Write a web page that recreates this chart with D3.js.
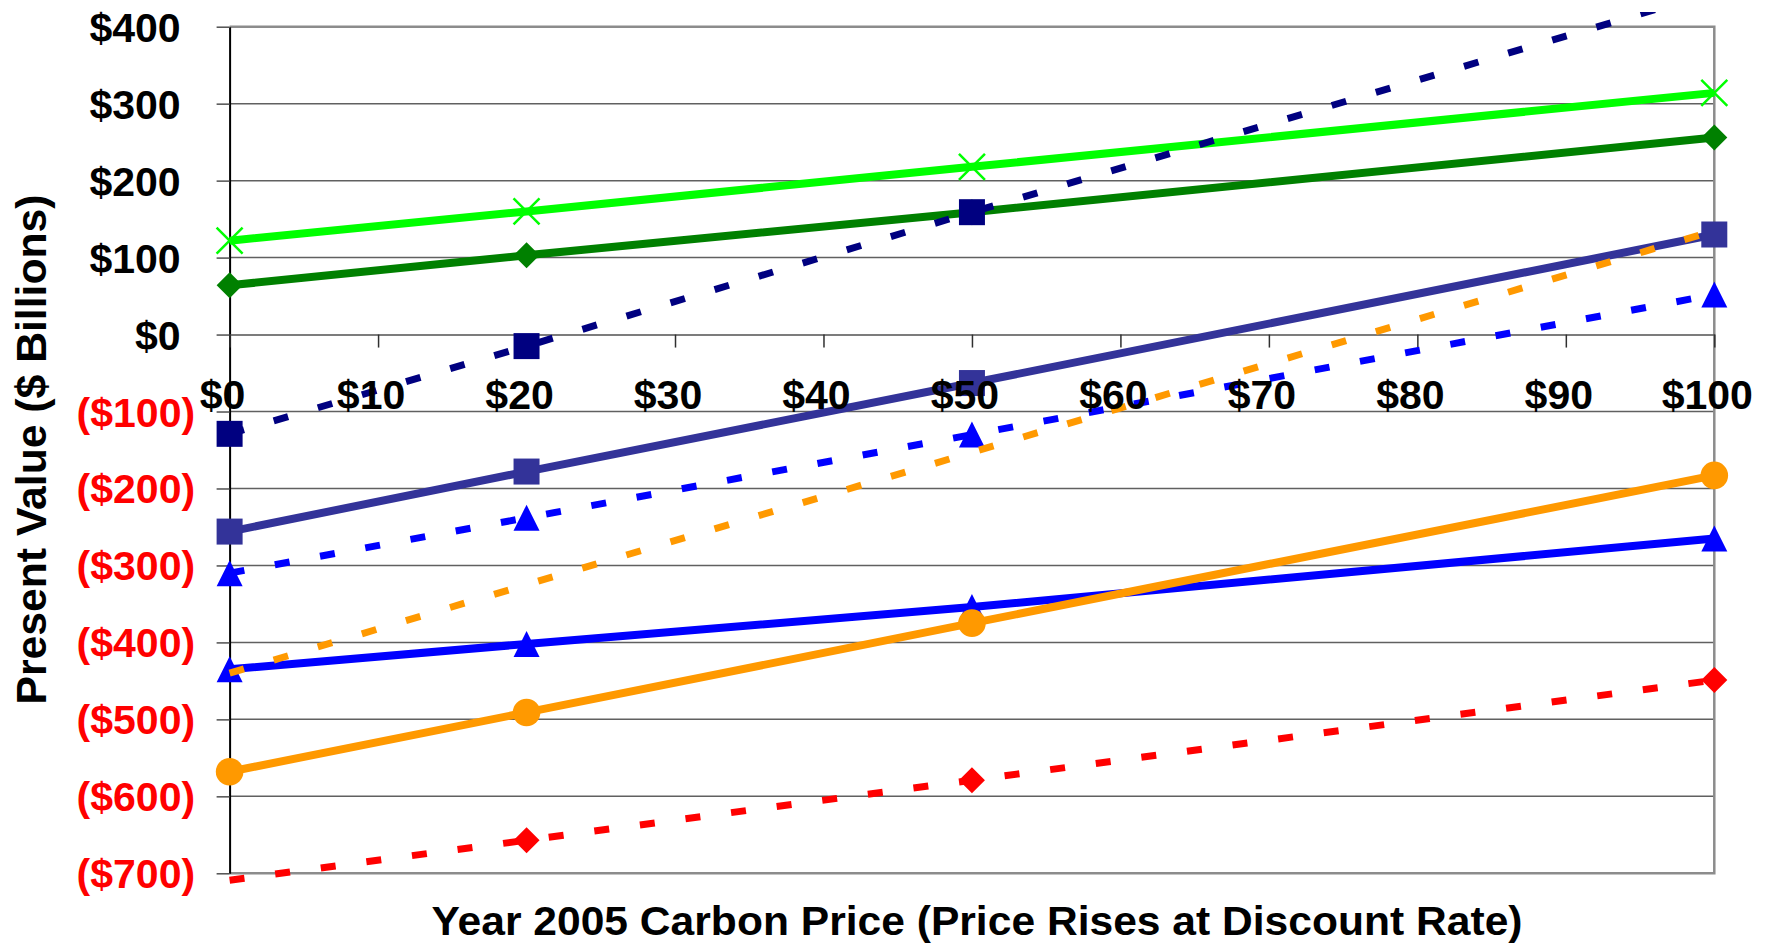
<!DOCTYPE html>
<html>
<head>
<meta charset="utf-8">
<script src="https://cdn.jsdelivr.net/npm/d3@7"></script>
<style>
  html, body { margin: 0; padding: 0; background: #fff; }
  svg { display: block; }
  text { font-family: "Liberation Sans", Arial, sans-serif; font-weight: bold; }
</style>
</head>
<body>
<svg id="chart" width="1769" height="943"></svg>
<script>
// Year 2005 carbon price points ($/t) at which present value was evaluated
const prices = [0, 20, 50, 100];
const xTickValues = [0, 10, 20, 30, 40, 50, 60, 70, 80, 90, 100];
const yTickValues = [-700, -600, -500, -400, -300, -200, -100, 0, 100, 200, 300, 400];

// Present value ($ billions) for each scenario
const limeSolid    = [122, 160, 218, 314];
const greenSolid   = [64, 103, 159, 256];
const navyDashed   = [-129, -15, 159, 445];
const slateSolid   = [-256, -178, -63, 130];
const blueDashed   = [-310, -238, -130, 52];
const blueSolid    = [-435, -402, -354, -265];
const orangeDashed = [-440, -325, -153, 135];
const orangeSolid  = [-568, -491, -375, -183];
const redDashed    = [-709, -657, -579, -449];

const series = [
  { values: limeSolid,    color: "#00FF00", dashed: false, marker: "cross" },
  { values: greenSolid,   color: "#008000", dashed: false, marker: "diamond" },
  { values: navyDashed,   color: "#000080", dashed: true,  marker: "square" },
  { values: slateSolid,   color: "#333399", dashed: false, marker: "square" },
  { values: blueDashed,   color: "#0000FF", dashed: true,  marker: "triangle" },
  { values: blueSolid,    color: "#0000FF", dashed: false, marker: "triangle" },
  { values: orangeDashed, color: "#FF9900", dashed: true,  marker: null },
  { values: orangeSolid,  color: "#FF9900", dashed: false, marker: "circle" },
  { values: redDashed,    color: "#FF0000", dashed: true,  marker: "diamond" }
];

const svg = d3.select("#chart");
const W = 1769, H = 943;
const plotLeft = 229.6, plotRight = 1714.3, plotTop = 26.7, plotBottom = 873.3;

const x = d3.scaleLinear().domain([0, 100]).range([plotLeft, plotRight]);
const y = d3.scaleLinear().domain([-700, 400]).range([plotBottom, plotTop]);

svg.append("rect").attr("width", W).attr("height", H).attr("fill", "#fff");

// horizontal gridlines
svg.append("g")
  .selectAll("line")
  .data(yTickValues.filter(v => v > -700 && v < 400 && v !== 0))
  .join("line")
  .attr("x1", plotLeft).attr("x2", plotRight)
  .attr("y1", d => y(d)).attr("y2", d => y(d))
  .attr("stroke", "#606060").attr("stroke-width", 1.5);

// plot area frame (top, right, bottom)
svg.append("path")
  .attr("d", `M${plotLeft},${plotTop}H${plotRight}V${plotBottom}H${plotLeft}`)
  .attr("fill", "none").attr("stroke", "#8c8c8c").attr("stroke-width", 2.5);

// y axis
const yAxis = d3.axisLeft(y)
  .tickValues(yTickValues)
  .tickSize(13)
  .tickSizeOuter(0)
  .tickFormat(d => d < 0 ? `($${Math.abs(d)})` : `$${d}`);

const gy = svg.append("g").attr("transform", `translate(${plotLeft},0)`).call(yAxis);
gy.select(".domain").attr("stroke", "#000").attr("stroke-width", 2);
gy.selectAll(".tick line").attr("stroke", "#505050").attr("stroke-width", 1.5);
gy.selectAll(".tick text")
  .attr("x", d => d < 0 ? -34.5 : -49)
  .attr("dy", 14.5)
  .attr("fill", d => d < 0 ? "#FF0000" : "#000")
  .attr("font-size", 41)
  .attr("font-family", "Liberation Sans, Arial, sans-serif")
  .attr("font-weight", "bold");

// x axis, crossing at $0
const xAxis = d3.axisBottom(x)
  .tickValues(xTickValues)
  .tickSize(13)
  .tickSizeOuter(0)
  .tickFormat(d => `$${d}`);

const gx = svg.append("g").attr("transform", `translate(0,${y(0)})`).call(xAxis);
gx.select(".domain").attr("stroke", "#505050").attr("stroke-width", 1.5);
gx.selectAll(".tick line").attr("stroke", "#303030").attr("stroke-width", 1.5);
gx.selectAll(".tick text").remove();

// series lines
svg.append("defs").append("clipPath").attr("id", "chartArea")
  .append("rect").attr("x", 0).attr("y", 12).attr("width", W).attr("height", H - 12);

const line = d3.line().x((d, i) => x(prices[i])).y(d => y(d));

const gLines = svg.append("g").attr("clip-path", "url(#chartArea)");

function markerPath(type, s) {
  if (type === "square") return `M${-s},${-s}H${s}V${s}H${-s}Z`;
  if (type === "diamond") return `M0,${-s}L${s},0L0,${s}L${-s},0Z`;
  if (type === "triangle") return `M0,${-s}L${s},${s}L${-s},${s}Z`;
  if (type === "cross") return `M${-s},${-s}L${s},${s}M${-s},${s}L${s},${-s}`;
  return "";
}

series.forEach(s => {
  const g = gLines.append("g");
  g.append("path")
    .attr("d", line(s.values))
    .attr("fill", "none")
    .attr("stroke", s.color)
    .attr("stroke-width", s.dashed ? 7 : 8)
    .attr("stroke-dasharray", s.dashed ? "15,31" : null)
    .attr("stroke-linejoin", "round");

  if (!s.marker) return;
  const pts = s.values.map((v, i) => ({ px: prices[i], v }))
    .filter(p => p.v >= -700 && p.v <= 400);
  if (s.marker === "circle") {
    g.selectAll("circle").data(pts).join("circle")
      .attr("cx", p => x(p.px)).attr("cy", p => y(p.v)).attr("r", 13.8)
      .attr("fill", s.color);
  } else if (s.marker === "cross") {
    g.selectAll(".m").data(pts).join("path").attr("class", "m")
      .attr("transform", p => `translate(${x(p.px)},${y(p.v)})`)
      .attr("d", markerPath("cross", 13))
      .attr("fill", "none").attr("stroke", s.color).attr("stroke-width", 2.5);
  } else {
    g.selectAll(".m").data(pts).join("path").attr("class", "m")
      .attr("transform", p => `translate(${x(p.px)},${y(p.v)})`)
      .attr("d", markerPath(s.marker, 13))
      .attr("fill", s.color);
  }
});

// x tick labels
svg.append("g")
  .selectAll("text")
  .data(xTickValues)
  .join("text")
  .attr("x", d => x(d) - 7)
  .attr("y", 409)
  .attr("text-anchor", "middle")
  .attr("font-size", 41)
  .attr("fill", "#000")
  .text(d => `$${d}`);

// axis titles
svg.append("text")
  .attr("x", 977)
  .attr("y", 935)
  .attr("text-anchor", "middle")
  .attr("font-size", 41)
  .attr("textLength", 1091)
  .attr("lengthAdjust", "spacingAndGlyphs")
  .attr("fill", "#000")
  .text("Year 2005 Carbon Price (Price Rises at Discount Rate)");

svg.append("text")
  .attr("transform", "translate(46,449.5) rotate(-90)")
  .attr("text-anchor", "middle")
  .attr("font-size", 42)
  .attr("textLength", 510)
  .attr("lengthAdjust", "spacingAndGlyphs")
  .attr("fill", "#000")
  .text("Present Value ($ Billions)");
</script>
</body>
</html>
